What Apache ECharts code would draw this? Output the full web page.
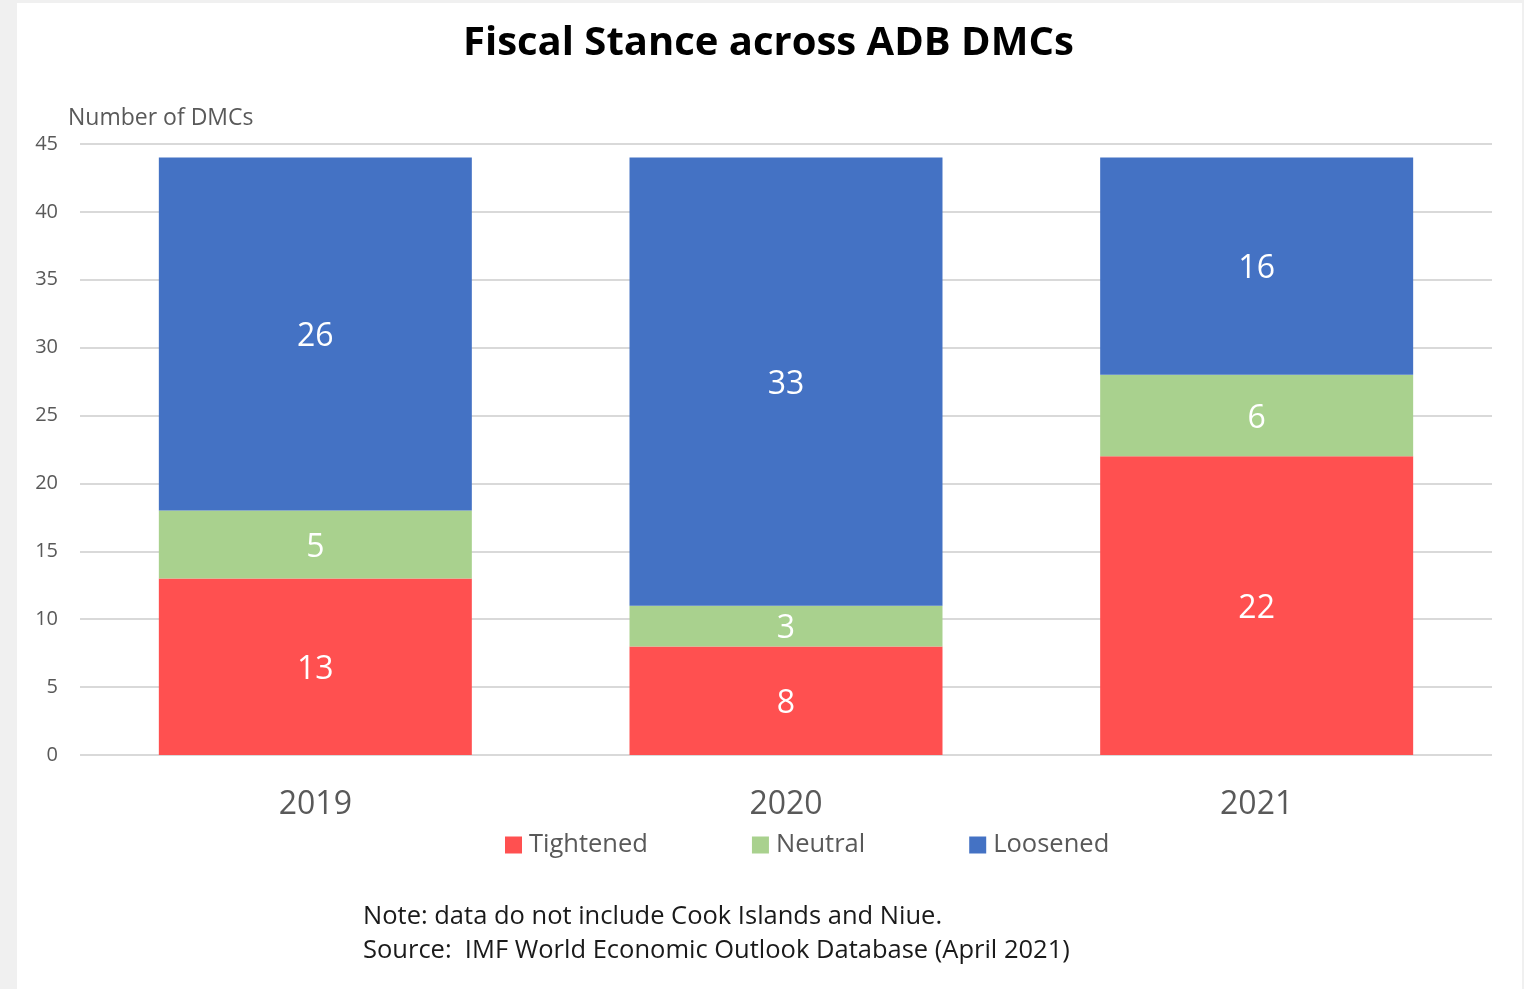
<!DOCTYPE html>
<html>
<head>
<meta charset="utf-8">
<script src="https://cdn.jsdelivr.net/npm/echarts@6/dist/echarts.min.js"></script>
<style>
  html, body { margin: 0; padding: 0; background: #f0f0f0; }
  #frame { position: absolute; left: 17px; top: 3px; width: 1505px; height: 986px; background: #ffffff; }
  #chart { position: absolute; left: 0; top: 0; width: 1524px; height: 989px; }
</style>
</head>
<body>
<div id="frame"></div>
<div id="chart"></div>
<script>
// Fiscal stance of ADB developing member countries, by year
const years = ['2019', '2020', '2021'];
const tightened = [13, 8, 22];
const neutral = [5, 3, 6];
const loosened = [26, 33, 16];
const yTicks = [0, 5, 10, 15, 20, 25, 30, 35, 40, 45];

const font = 'Open Sans, Noto Sans, sans-serif';

const chart = echarts.init(document.getElementById('chart'), null, { renderer: 'canvas' });

function barSeries(name, data, color) {
  return {
    name: name,
    type: 'bar',
    stack: 'dmc',
    data: data,
    barWidth: '66.5%',
    itemStyle: { color: color },
    label: {
      show: true,
      position: 'inside',
      color: '#ffffff',
      fontSize: 32,
      fontFamily: font,
      offset: [0, 3]
    }
  };
}

chart.setOption({
  backgroundColor: 'transparent',
  animation: false,
  title: {
    text: 'Fiscal Stance across ADB DMCs',
    left: 458,
    top: 19,
    textStyle: { fontSize: 40, fontWeight: 'bold', color: '#000000', fontFamily: font }
  },
  legend: {
    top: 827,
    left: 500,
    itemWidth: 17,
    itemHeight: 17,
    itemGap: 104,
    icon: 'rect',
    textStyle: { fontSize: 25.5, color: '#595959', fontFamily: font, padding: [0, 0, 0, 2] },
    data: ['Tightened', 'Neutral', 'Loosened']
  },
  graphic: [
    {
      type: 'text',
      left: 363,
      top: 900,
      style: {
        text: 'Note: data do not include Cook Islands and Niue.\nSource:  IMF World Economic Outlook Database (April 2021)',
        font: '25.5px ' + font,
        fill: '#1a1a1a',
        lineHeight: 34
      }
    }
  ],
  grid: { left: 80, right: 32, top: 144, bottom: 234, containLabel: false },
  xAxis: {
    type: 'category',
    data: years,
    axisLine: { show: false },
    axisTick: { show: false },
    axisLabel: { fontSize: 32, color: '#595959', fontFamily: font, margin: 34 }
  },
  yAxis: {
    type: 'value',
    min: yTicks[0],
    max: yTicks[yTicks.length - 1],
    interval: 5,
    name: 'Number of DMCs',
    nameLocation: 'end',
    nameGap: 14,
    nameTextStyle: { fontSize: 23, color: '#595959', fontFamily: font, align: 'left', padding: [0, 0, 0, -12] },
    axisLine: { show: false },
    axisTick: { show: false },
    axisLabel: { fontSize: 20, color: '#595959', fontFamily: font, margin: 22 },
    splitLine: { lineStyle: { color: '#d9d9d9', width: 2 } }
  },
  series: [
    barSeries('Tightened', tightened, '#ff5050'),
    barSeries('Neutral', neutral, '#a9d18e'),
    barSeries('Loosened', loosened, '#4472c4')
  ]
});
</script>
</body>
</html>
